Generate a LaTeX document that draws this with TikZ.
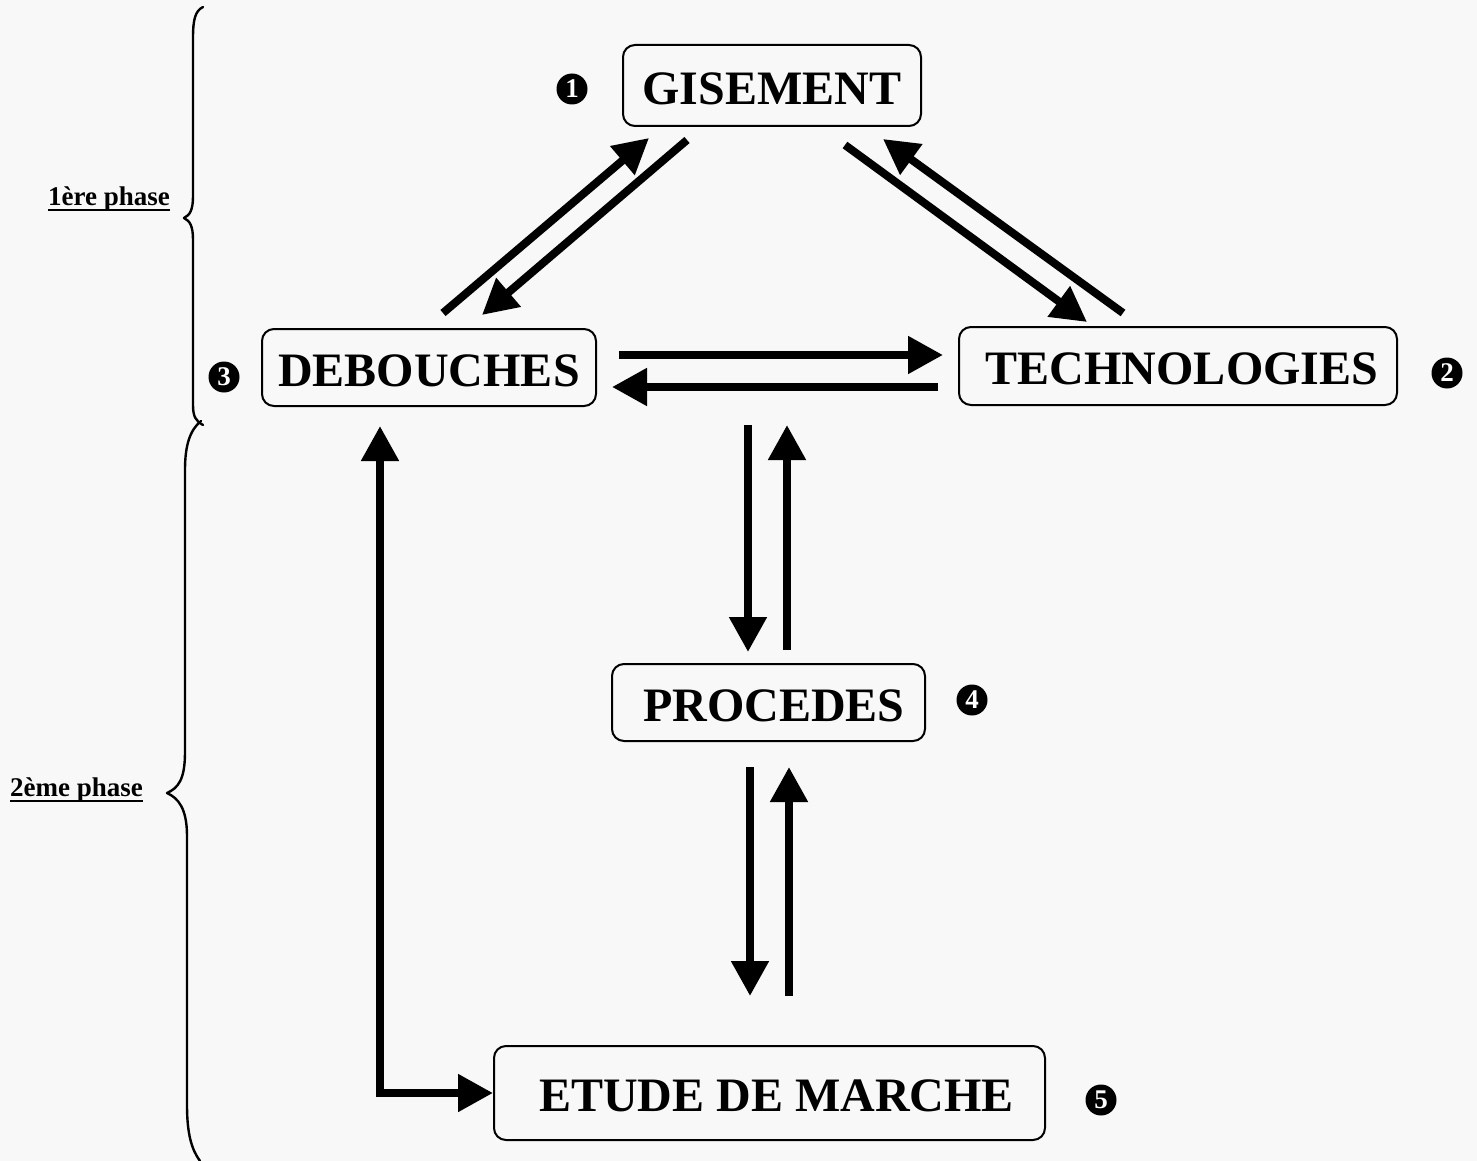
\documentclass[tikz,border=0pt]{standalone}
\usepackage{fontspec}
\setmainfont{Liberation Serif}
\usetikzlibrary{arrows.meta,calc}
\definecolor{paper}{RGB}{248,248,248}
% text with a heavy rule under it
\newcommand\heavyul[1]{\setbox0=\hbox{#1}\leavevmode\hbox{\rlap{\vrule height -4pt depth 6pt width \wd0}\box0}}
\begin{document}
\begin{tikzpicture}[x=1pt,y=-1pt,
  box/.style={draw, line width=2pt, rounded corners=12pt, inner sep=0pt,
    font=\fontsize{48}{50}\selectfont\bfseries,
    execute at begin node={\rule{0pt}{38pt}}},
  num/.style={circle, fill=black, text=white, inner sep=0pt, minimum size=31pt,
    font=\fontsize{27}{27}\selectfont\bfseries},
  arr/.style={line width=8pt, -{Triangle[length=35pt,width=36pt]}},
  duo/.style={line width=8pt, {Triangle[length=35pt,width=36pt]}-{Triangle[length=35pt,width=36pt]}},
  phase/.style={font=\fontsize{27}{30}\selectfont\bfseries},
  brace/.style={line width=2.4pt, line join=round, line cap=round}]

% page
\fill[paper] (0,0) rectangle (1477,1161);
\useasboundingbox (0,0) rectangle (1477,1161);

% boxes
\node[box, minimum width=298pt, minimum height=81pt] (gis) at (772,85.5) {GISEMENT};
\node[box, minimum width=334pt, minimum height=77pt] (deb) at (429,367.5) {DEBOUCHES};
\node[box, minimum width=438pt, minimum height=78pt] (tech) at (1178,366) {\hspace{8pt}TECHNOLOGIES};
\node[box, minimum width=313pt, minimum height=77pt] (proc) at (768.5,702.5) {\hspace{11pt}PROCEDES};
\node[box, minimum width=551pt, minimum height=94pt] (etude) at (769.5,1093) {\hspace{14pt}ETUDE DE MARCHE};

% step numbers
\node[num] (n1) at (572,89) {1};
\node[num] (n2) at (1447,373) {2};
\node[num] (n3) at (224,377) {3};
\node[num] (n4) at (972,700) {4};
\node[num] (n5) at (1101,1100) {5};

% arrow end points
\coordinate (gdA) at (443,313);  \coordinate (gdB) at (649,138);
\coordinate (gdC) at (687,140);  \coordinate (gdD) at (482,315);
\coordinate (gtA) at (845,145);  \coordinate (gtB) at (1087,322);
\coordinate (gtC) at (1123,313); \coordinate (gtD) at (883,139);
\coordinate (dtA) at (619,355);  \coordinate (dtB) at (943,355);
\coordinate (dtC) at (938,387);  \coordinate (dtD) at (612,387);
\coordinate (tpA) at (748,425);  \coordinate (tpB) at (748,652);
\coordinate (tpC) at (787,650);  \coordinate (tpD) at (787,425);
\coordinate (peA) at (750,767);  \coordinate (peB) at (750,996);
\coordinate (peC) at (789,996);  \coordinate (peD) at (789,767);

% arrows
\draw[arr] (gdA) -- (gdB);
\draw[arr] (gdC) -- (gdD);
\draw[arr] (gtA) -- (gtB);
\draw[arr] (gtC) -- (gtD);
\draw[arr] (dtA) -- (dtB);
\draw[arr] (dtC) -- (dtD);
\draw[arr] (tpA) -- (tpB);
\draw[arr] (tpC) -- (tpD);
\draw[arr] (peA) -- (peB);
\draw[arr] (peC) -- (peD);
\draw[duo] ([xshift=-49pt,yshift=-19pt]deb.south) |- (etude.west);

% phase braces
\draw[brace] (203,7) .. controls (195,11) and (193,20) .. (193,38)
  -- (193,196) .. controls (193,210) and (190,215) .. (184,218)
  .. controls (190,221) and (193,226) .. (193,240)
  -- (193,405) .. controls (193,417) and (196,421) .. (203,425);
\draw[brace] (201,421) .. controls (190,430) and (185,445) .. (185,470)
  -- (185,752) .. controls (185,780) and (178,788) .. (167,793)
  .. controls (178,798) and (187,808) .. (187,836)
  -- (187,1105) .. controls (187,1135) and (192,1150) .. (200,1161);

% phase labels
\node[phase] (p1) at (109,199) {\heavyul{1ère phase}};
\node[phase] (p2) at (76.5,790) {\heavyul{2ème phase}};
\end{tikzpicture}
\end{document}
